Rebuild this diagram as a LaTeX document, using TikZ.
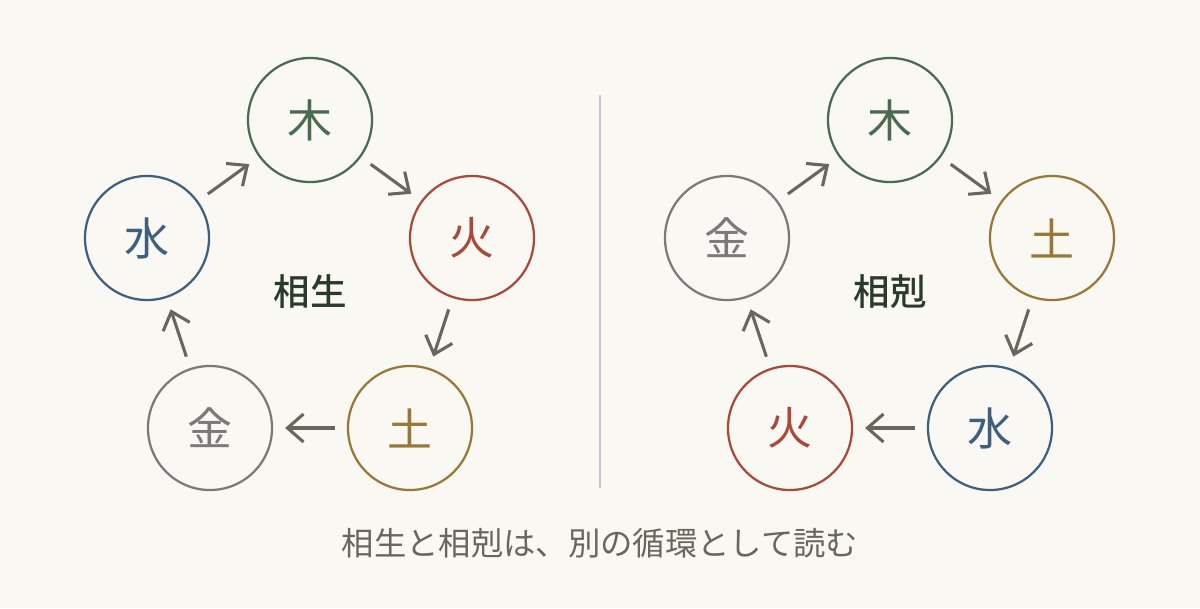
\documentclass[tikz,border=0pt]{standalone}
\usepackage{fontspec}
\newfontfamily\cjk{Noto Sans CJK JP}
\newfontfamily\cjkbold{Noto Sans CJK JP Medium}
\usetikzlibrary{arrows.meta}
\definecolor{Paper}{HTML}{FAF8F3}
\definecolor{Wood}{HTML}{4A6B4F}
\definecolor{Fire}{HTML}{A8493A}
\definecolor{Earth}{HTML}{987838}
\definecolor{Metal}{HTML}{7A7A76}
\definecolor{Water}{HTML}{3F5F7F}
\definecolor{Flow}{HTML}{66675F}
\tikzset{
  elem/.style={circle, draw=#1, text=#1, line width=1.6pt, minimum size=3.1cm, inner sep=0pt, font=\cjk\fontsize{32}{32}\selectfont},
  flow/.style={draw=Flow, line width=2.2pt, -{Straight Barb[length=4mm,width=7mm,line width=2.2pt]}, shorten <=3mm, shorten >=3mm},
  cycname/.style={text=Wood!55!black, font=\cjkbold\fontsize{26}{26}\selectfont}
}
\begin{document}
\begin{tikzpicture}[x=0.025cm,y=-0.025cm]
    \fill[Paper] (0,0) rectangle (1200,608);
    \useasboundingbox (0,0) rectangle (1200,608);
    %% generating cycle
    \node[elem=Wood] (lwood) at (310,120) {木};
    \node[elem=Fire] (lfire) at (472,238) {火};
    \node[elem=Earth] (learth) at (410,428) {土};
    \node[elem=Metal] (lmetal) at (210,428) {金};
    \node[elem=Water] (lwater) at (147,238) {水};
    \node[cycname] (lname) at (310,292) {相生};
    \foreach \a/\b in {lwood/lfire, lfire/learth, learth/lmetal, lmetal/lwater, lwater/lwood}
        \draw[flow] (\a) -- (\b);
    %% divider
    \draw[black!22, line width=1pt] (600,95) -- (600,488);
    %% overcoming cycle
    \node[elem=Wood] (rwood) at (890,120) {木};
    \node[elem=Earth] (rearth) at (1052,238) {土};
    \node[elem=Water] (rwater) at (990,428) {水};
    \node[elem=Fire] (rfire) at (790,428) {火};
    \node[elem=Metal] (rmetal) at (727,238) {金};
    \node[cycname] (rname) at (890,292) {相剋};
    \foreach \a/\b in {rwood/rearth, rearth/rwater, rwater/rfire, rfire/rmetal, rmetal/rwood}
        \draw[flow] (\a) -- (\b);
    %% caption
    \node[text=Flow, font=\cjk\fontsize{23}{23}\selectfont] (caption) at (600,543) {相生と相剋は、別の循環として読む};
\end{tikzpicture}
\end{document}
